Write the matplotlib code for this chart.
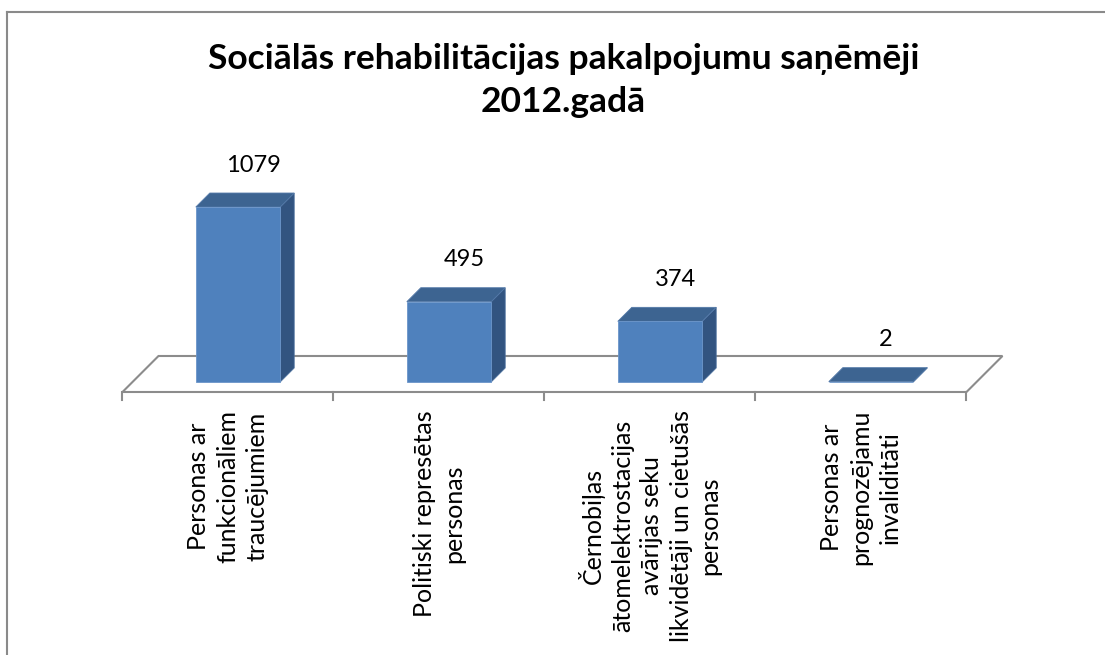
import matplotlib
matplotlib.use("Agg")
import matplotlib.pyplot as plt
from matplotlib.patches import Polygon
from matplotlib.lines import Line2D
from matplotlib.transforms import IdentityTransform

plt.rcParams["font.family"] = ["Lato", "DejaVu Sans"]

# data
categories = [
    "Personas ar\nfunkcionāliem\ntraucējumiem",
    "Politiski represētas\npersonas",
    "Černobiļas\nātomelektrostacijas\navārijas seku\nlikvidētāji un cietušās\npersonas",
    "Personas ar\nprognozējamu\ninvaliditāti",
]
values = [1079, 495, 374, 2]
title = "Sociālās rehabilitācijas pakalpojumu saņēmēji\n2012.gadā"

front_col = "#4F81BD"
side_col = "#325480"
top_col = "#3D6491"
grid_col = "#8C8C8C"

fig = plt.figure(figsize=(11.05, 6.55), dpi=100)
fig.patch.set_facecolor("white")

# front plane of the bars
ax = fig.add_axes([0.1199, 0.4168, 0.7638, 0.2971])
ax.set_xlim(-0.5, len(values) - 0.5)
ax.set_ylim(0, 1200)
ax.axis("off")

ident = IdentityTransform()
depth = 14          # bar depth in pixels
floor_front = -10   # floor front edge offset from bar plane (pixels)
floor_back = 26
bar_w = 0.4


def px(x, y):
    return ax.transData.transform((x, y))


def shift(p, d):
    return (p[0] + d, p[1] + d)


# floor
n = len(values)
fl = px(-0.5, 0)
fr = px(n - 0.5, 0)
floor = [shift(fl, floor_front), shift(fr, floor_front),
         shift(fr, floor_back), shift(fl, floor_back)]
ax.add_patch(Polygon(floor, closed=True, facecolor="white", edgecolor=grid_col,
                     lw=1.5, transform=ident, clip_on=False))
for i in range(n + 1):
    p = shift(px(i - 0.5, 0), floor_front)
    ax.add_line(Line2D([p[0], p[0]], [p[1], p[1] - 8], color=grid_col, lw=1.5,
                       transform=ident, clip_on=False))

# bars
for i, v in enumerate(values):
    bl = px(i - bar_w / 2, 0)
    br = px(i + bar_w / 2, 0)
    tl = px(i - bar_w / 2, v)
    tr = px(i + bar_w / 2, v)
    ax.add_patch(Polygon([br, shift(br, depth), shift(tr, depth), tr], closed=True,
                         facecolor=side_col, edgecolor="#4A6E9C", lw=0.6,
                         transform=ident, clip_on=False))
    ax.add_patch(Polygon([tl, tr, shift(tr, depth), shift(tl, depth)], closed=True,
                         facecolor=top_col, edgecolor="#5379A8", lw=0.6,
                         transform=ident, clip_on=False))
    ax.add_patch(Polygon([bl, br, tr, tl], closed=True, facecolor=front_col,
                         edgecolor="#6B95C9", lw=0.6, transform=ident, clip_on=False))
    top = px(i, v)
    ax.text(top[0] + 15, top[1] + 42, str(v), transform=ident, ha="center",
            va="center", fontsize=17, color="black")

# category labels
for i, lab in enumerate(categories):
    p = shift(px(i, 0), floor_front)
    ax.text(p[0], p[1] - 18, lab, transform=ident, rotation=90, ha="center",
            va="top", multialignment="center", fontsize=18, linespacing=1.32)

fig.text(0.51, 1 - 80.5 / 655, title, ha="center", va="center", fontsize=25.5,
         fontweight="bold", linespacing=1.4)

# chart border (top and left visible)
fig.add_artist(Line2D([7 / 1105, 1], [1 - 11.5 / 655, 1 - 11.5 / 655],
                      color="#8A8A8A", lw=1.5, transform=fig.transFigure))
fig.add_artist(Line2D([7 / 1105, 7 / 1105], [0, 1 - 11.5 / 655],
                      color="#8A8A8A", lw=1.5, transform=fig.transFigure))

fig.savefig("out.png", dpi=100)
